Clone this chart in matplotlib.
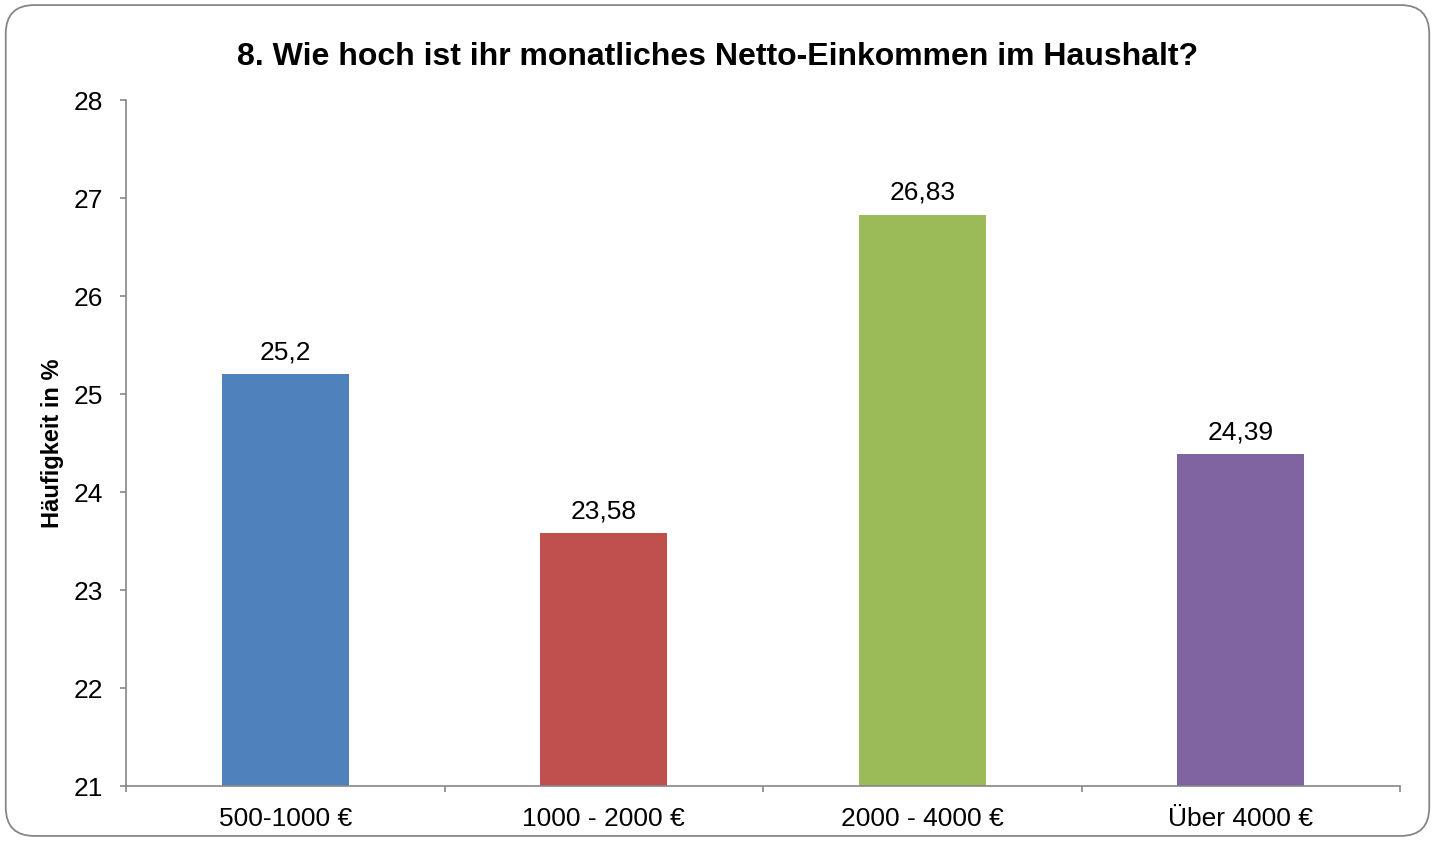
import matplotlib.pyplot as plt
from matplotlib.patches import FancyBboxPatch

categories = ["500-1000 €", "1000 - 2000 €", "2000 - 4000 €", "Über 4000 €"]
values = [25.2, 23.58, 26.83, 24.39]
value_labels = ["25,2", "23,58", "26,83", "24,39"]
colors = ["#4F81BD", "#C0504D", "#9BBB59", "#8064A2"]
y_ticks = [21, 22, 23, 24, 25, 26, 27, 28]


def main():
    plt.rcParams['font.family'] = ['Liberation Sans', 'DejaVu Sans']
    width = 1435
    height = 841
    dpi = 100
    fig = plt.figure(figsize=(width / dpi, height / dpi), dpi=dpi)

    # rounded frame around the whole chart
    frame = FancyBboxPatch((0.004, 0.006), 0.992, 0.988,
                           boxstyle="round,pad=0,rounding_size=0.02",
                           transform=fig.transFigure, facecolor="none",
                           edgecolor="#868686", linewidth=1.3,
                           mutation_aspect=width / height, zorder=-1)
    fig.patches.append(frame)

    ax = fig.add_axes([126 / width, 55 / height, (1400 - 126) / width, (786 - 100) / height])
    ax.set_facecolor("none")

    x = list(range(len(categories)))
    ax.bar(x, [v - 21 for v in values], bottom=21, width=0.4, color=colors)
    for xi, v, lab in zip(x, values, value_labels):
        ax.annotate(lab, (xi, v), xytext=(0, 7), textcoords="offset points",
                    ha="center", va="bottom", fontsize=19)

    ax.set_xlim(-0.5, len(categories) - 0.5)
    ax.set_ylim(21, 28)
    ax.set_yticks(y_ticks)
    ax.set_yticklabels([str(t) for t in y_ticks], fontsize=19)
    ax.set_xticks(x)
    ax.set_xticklabels(categories, fontsize=19)
    ax.tick_params(axis="x", length=0, pad=15)
    ax.set_xticks([i - 0.5 for i in range(len(categories) + 1)], minor=True)
    ax.tick_params(axis="x", which="minor", length=4.5, color="#868686", width=1.2)
    ax.tick_params(axis="y", length=4.5, color="#868686", width=1.2, pad=12)

    for side in ["top", "right"]:
        ax.spines[side].set_visible(False)
    for side in ["left", "bottom"]:
        ax.spines[side].set_color("#868686")
        ax.spines[side].set_linewidth(1.2)

    ax.set_ylabel("Häufigkeit in %", fontsize=17, fontweight="bold", labelpad=7)
    fig.text(0.5, 0.932, "8. Wie hoch ist ihr monatliches Netto-Einkommen im Haushalt?",
             ha="center", va="center", fontsize=23, fontweight="bold")

    fig.savefig("out.png", dpi=dpi)


if __name__ == "__main__":
    main()
